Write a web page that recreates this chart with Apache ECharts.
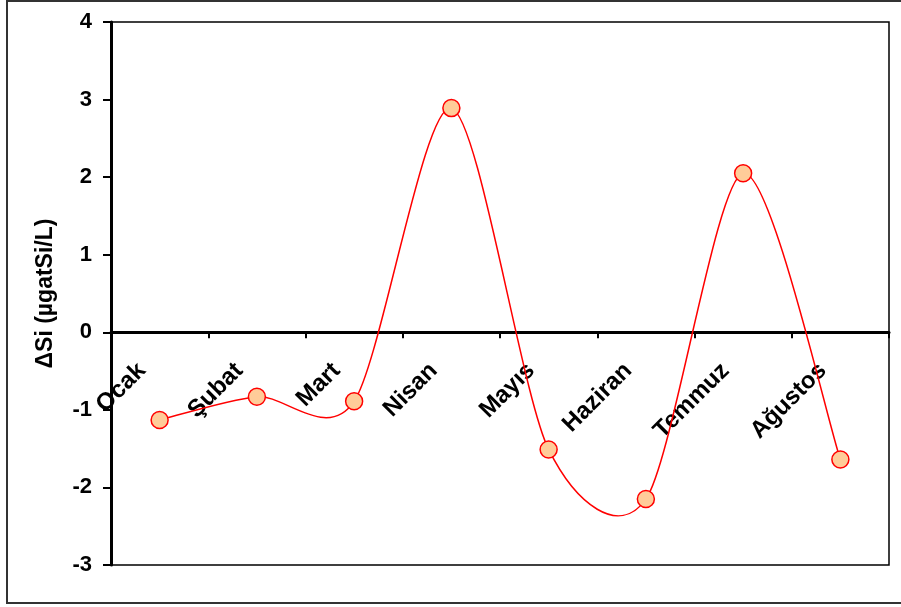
<!DOCTYPE html>
<html>
<head>
<meta charset="utf-8">
<script src="https://cdn.jsdelivr.net/npm/echarts@6/dist/echarts.min.js"></script>
<style>
html,body{margin:0;padding:0;background:#fff;}
#main{width:901px;height:607px;}
</style>
</head>
<body>
<div id="main"></div>
<script>
var categories = ['Ocak', 'Şubat', 'Mart', 'Nisan', 'Mayıs', 'Haziran', 'Temmuz', 'Ağustos'];
var deltaSi = [-1.13, -0.83, -0.89, 2.89, -1.51, -2.15, 2.05, -1.64];
var yTicks = { min: -3, max: 4, interval: 1 };
var yName = 'ΔSi (µgatSi/L)';

var W = 901, H = 607;
var gridBox = { left: 111, right: 12, top: 22, bottom: 42 };
var gridH = H - gridBox.top - gridBox.bottom;
// place the category axis on the value 0 line
var xOffset = -((0 - yTicks.min) / (yTicks.max - yTicks.min)) * gridH;

var chart = echarts.init(document.getElementById('main'));
var font = 'Liberation Sans, Arial, sans-serif';
var tension = 0.14;

// Excel-style smoothed line (Catmull-Rom-like through the data points, via the axes' coord())
function renderSegment(params, api) {
  var i = params.dataIndex;
  var n = deltaSi.length;
  if (i >= n - 1) return null;
  function pt(j) {
    j = Math.max(0, Math.min(n - 1, j));
    return api.coord([j, deltaSi[j]]);
  }
  var p0 = pt(i - 1), p1 = pt(i), p2 = pt(i + 1), p3 = pt(i + 2);
  return {
    type: 'bezierCurve',
    shape: {
      x1: p1[0], y1: p1[1], x2: p2[0], y2: p2[1],
      cpx1: p1[0] + (p2[0] - p0[0]) * tension, cpy1: p1[1] + (p2[1] - p0[1]) * tension,
      cpx2: p2[0] - (p3[0] - p1[0]) * tension, cpy2: p2[1] - (p3[1] - p1[1]) * tension
    },
    style: { stroke: '#ff0000', fill: null, lineWidth: 1.5 }
  };
}

chart.setOption({
  animation: false,
  backgroundColor: '#fff',
  graphic: [{
    type: 'rect',
    shape: { x: 7, y: 1, width: 900, height: 602 },
    style: { fill: 'none', stroke: '#333', lineWidth: 2 },
    silent: true
  }],
  grid: {
    left: gridBox.left, right: gridBox.right, top: gridBox.top, bottom: gridBox.bottom,
    show: true, borderColor: '#000', borderWidth: 1.5, backgroundColor: '#fff'
  },
  xAxis: {
    type: 'category',
    data: categories,
    boundaryGap: true,
    offset: xOffset,
    axisLine: { onZero: false, lineStyle: { color: '#000', width: 3 } },
    axisTick: { show: true, inside: false, length: 6, alignWithLabel: false, lineStyle: { color: '#000', width: 2 } },
    axisLabel: {
      rotate: 45, margin: 17, color: '#000', fontFamily: font, fontWeight: 'bold', fontSize: 24,
      interval: 0, padding: [0, 25, 0, 0]
    },
    splitLine: { show: false }
  },
  yAxis: {
    type: 'value',
    min: yTicks.min, max: yTicks.max, interval: yTicks.interval,
    name: yName,
    nameLocation: 'middle',
    nameGap: 54,
    nameTextStyle: { color: '#000', fontFamily: font, fontWeight: 'bold', fontSize: 23 },
    axisLine: { show: true, lineStyle: { color: '#000', width: 3 } },
    axisTick: { show: true, length: 8, lineStyle: { color: '#000', width: 2 } },
    axisLabel: { color: '#000', fontFamily: font, fontWeight: 'bold', fontSize: 22, margin: 19 },
    splitLine: { show: false }
  },
  series: [{
    type: 'custom',
    data: deltaSi.map(function (v, i) { return [i, v]; }),
    renderItem: renderSegment,
    encode: { x: 0, y: 1 },
    z: 3
  }, {
    type: 'scatter',
    data: deltaSi,
    symbol: 'circle',
    symbolSize: 17,
    itemStyle: { color: '#FFCC99', borderColor: '#ff0000', borderWidth: 1.5, opacity: 1 },
    z: 5
  }]
});
</script>
</body>
</html>
